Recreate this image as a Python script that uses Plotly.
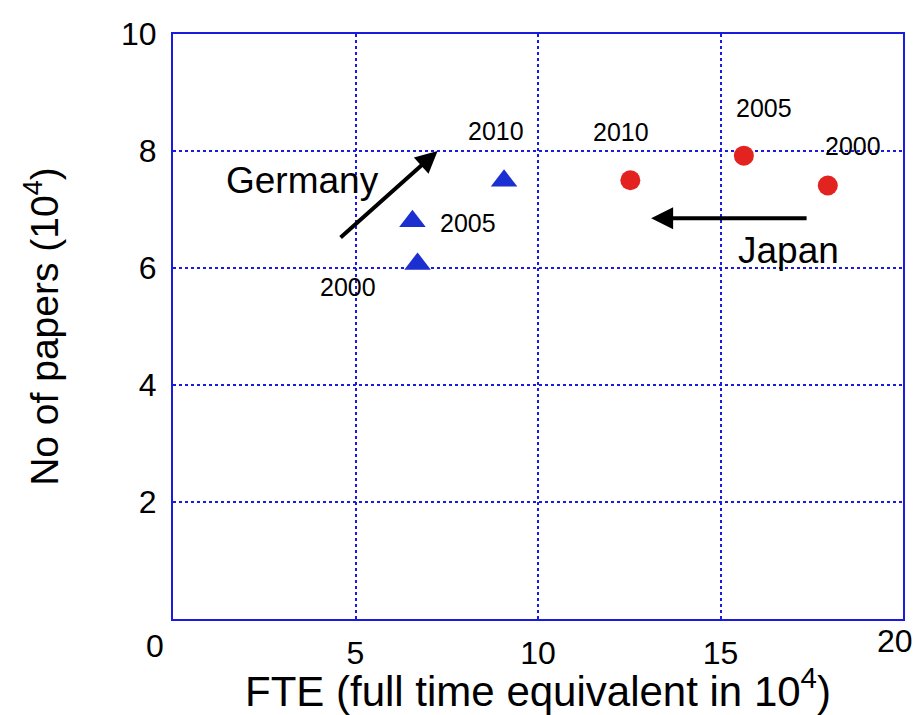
import plotly.graph_objects as go

# FTE (10^4) and number of papers (10^4) per year
germany_years = ["2000", "2005", "2010"]
germany_fte = [6.70, 6.56, 9.07]
germany_papers = [6.07, 6.80, 7.49]

japan_years = ["2000", "2005", "2010"]
japan_fte = [17.94, 15.64, 12.53]
japan_papers = [7.41, 7.92, 7.50]

x_ticks = [5, 10, 15]
y_ticks = [2, 4, 6, 8, 10]

FONT = "Liberation Sans, Arial, Helvetica, sans-serif"
BLUE = "#1a1ae0"

fig = go.Figure()
fig.add_trace(go.Scatter(
    x=germany_fte, y=germany_papers, mode="markers", name="Germany",
    marker=dict(symbol="triangle-up", size=23, color="#1c2fd0"),
))
fig.add_trace(go.Scatter(
    x=japan_fte, y=japan_papers, mode="markers", name="Japan",
    marker=dict(symbol="circle", size=20, color="#e2231f"),
))

# year labels next to each point (offset in pixels)
g_offsets = [(-70, 23), (56, 2), (-8, -50)]
j_offsets = [(25, -40), (20, -48), (-9, -48)]
for yr, x, y, (dx, dy) in zip(germany_years, germany_fte, germany_papers, g_offsets):
    fig.add_annotation(x=x, y=y, text=yr, showarrow=False, xshift=dx, yshift=-dy,
                       font=dict(family=FONT, size=25, color="black"))
for yr, x, y, (dx, dy) in zip(japan_years, japan_fte, japan_papers, j_offsets):
    fig.add_annotation(x=x, y=y, text=yr, showarrow=False, xshift=dx, yshift=-dy,
                       font=dict(family=FONT, size=25, color="black"))

# trend arrows and country names
fig.add_annotation(x=7.25, y=8.0, ax=4.55, ay=6.5, axref="x", ayref="y",
                   showarrow=True, arrowhead=2, arrowsize=1.1, arrowwidth=4,
                   arrowcolor="black", text="")
fig.add_annotation(x=13.1, y=6.85, ax=17.4, ay=6.85, axref="x", ayref="y",
                   showarrow=True, arrowhead=2, arrowsize=1.1, arrowwidth=4,
                   arrowcolor="black", text="")
fig.add_annotation(x=3.55, y=7.5, text="Germany", showarrow=False,
                   font=dict(family=FONT, size=37, color="black"))
fig.add_annotation(x=16.85, y=6.3, text="Japan", showarrow=False,
                   font=dict(family=FONT, size=37, color="black"))

# end labels of the x axis
fig.add_annotation(x=0, y=0, xref="x", yref="y", text="0", showarrow=False,
                   xshift=-18, yshift=-27, font=dict(family=FONT, size=32, color="black"))
fig.add_annotation(x=20, y=0, xref="x", yref="y", text="20", showarrow=False,
                   xshift=-8, yshift=-22, font=dict(family=FONT, size=32, color="black"))

axis_common = dict(
    showline=True, linecolor=BLUE, linewidth=2, mirror=True,
    showgrid=True, gridcolor=BLUE, gridwidth=1.5, griddash="dot",
    zeroline=False, ticks="", automargin=False,
    tickfont=dict(family=FONT, size=32, color="black"),
)

fig.update_layout(
    width=923, height=715,
    margin=dict(l=173, r=20, t=34, b=96),
    paper_bgcolor="white", plot_bgcolor="white",
    showlegend=False,
    xaxis=dict(range=[0, 20], tickvals=x_ticks, ticklabelstandoff=5,
               title=dict(text="FTE (full time equivalent in 10<sup>4</sup>)",
                          font=dict(family=FONT, size=42, color="black"), standoff=7),
               **axis_common),
    yaxis=dict(range=[0, 10], tickvals=y_ticks, ticklabelstandoff=8,
               title=dict(text="No of papers (10<sup>4</sup>)",
                          font=dict(family=FONT, size=39, color="black"), standoff=50),
               **axis_common),
)

fig.write_html("out.html")
